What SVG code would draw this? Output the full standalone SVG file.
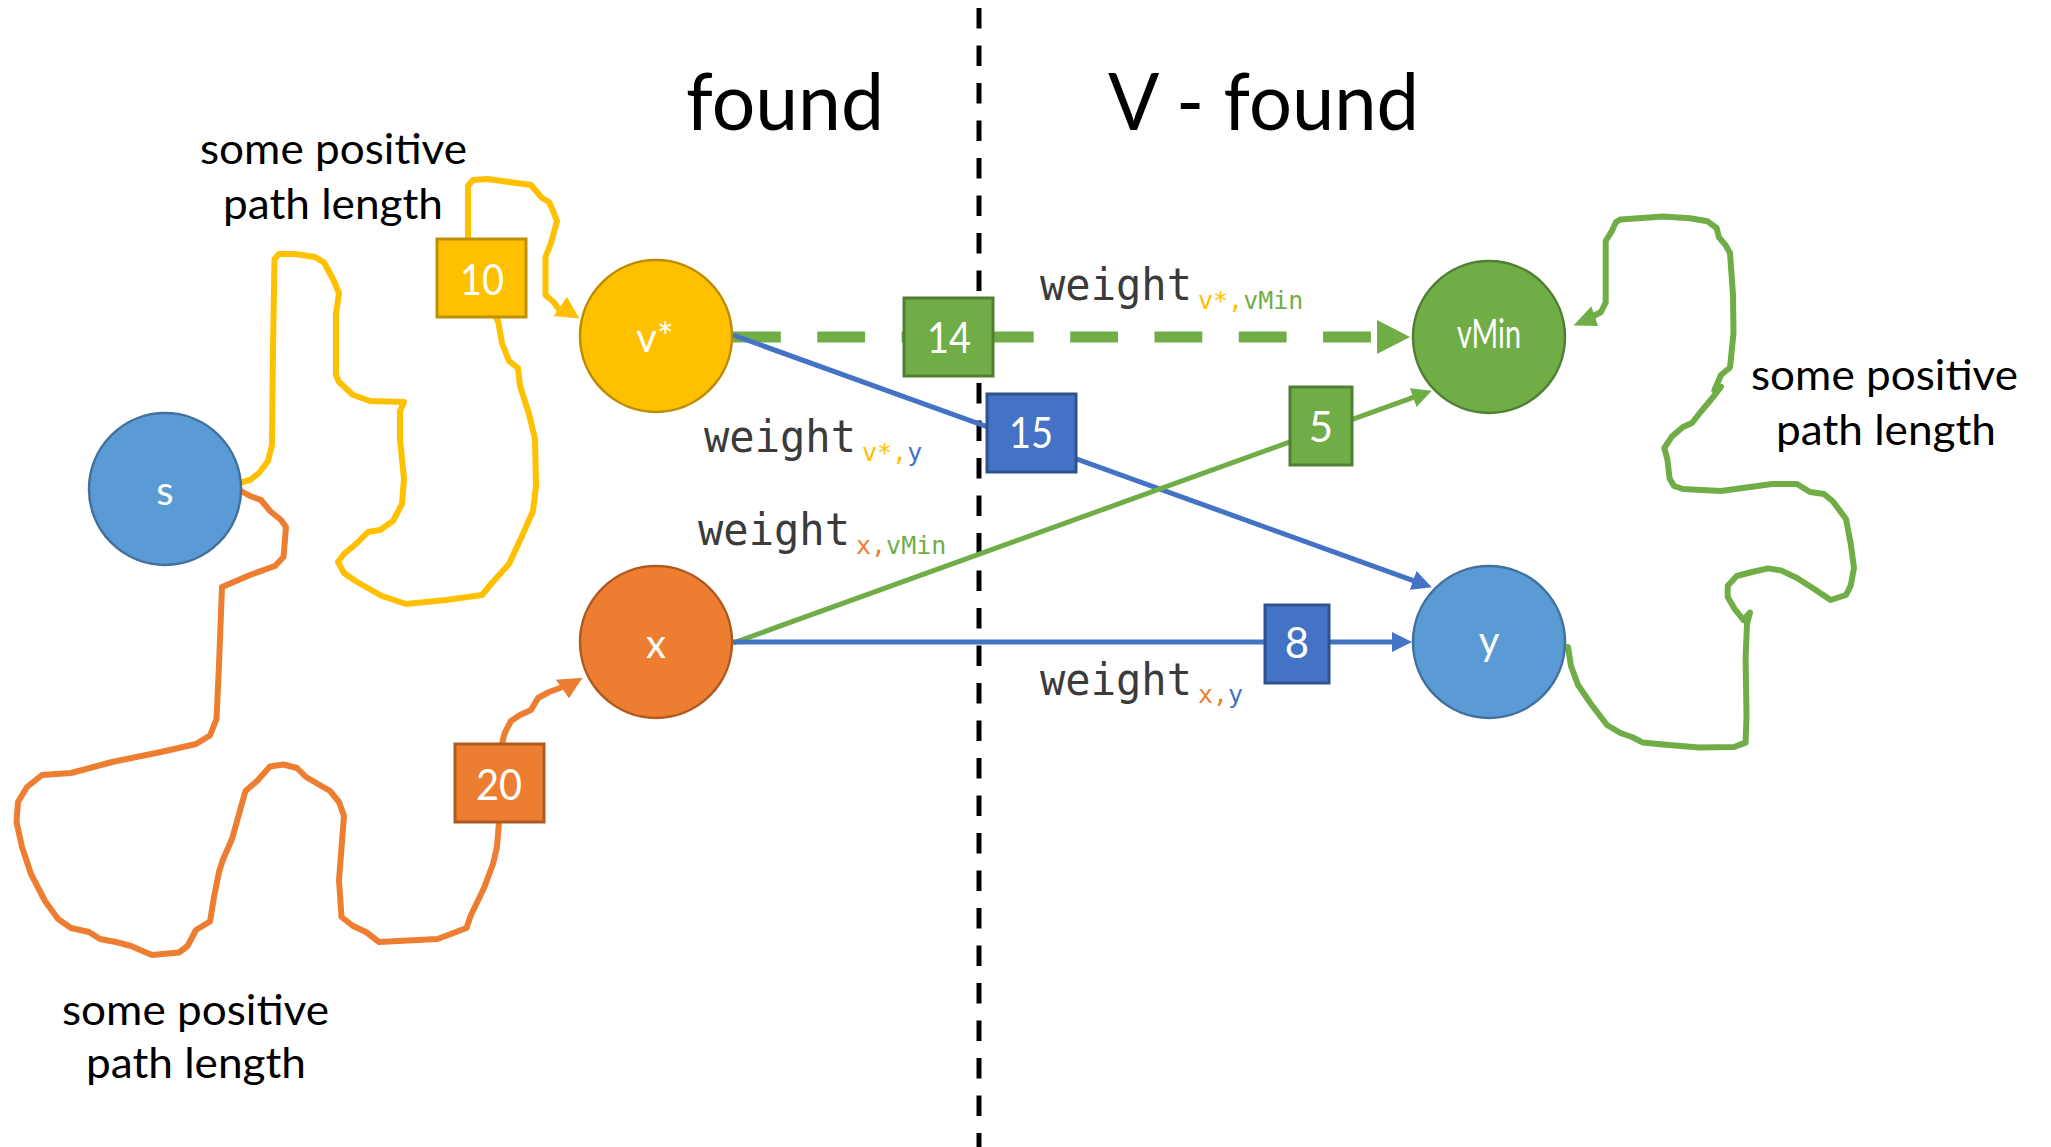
<svg xmlns="http://www.w3.org/2000/svg" width="2051" height="1147" viewBox="0 0 2051 1147">
<style>
.lab{font-family:Lato,"Liberation Sans",sans-serif;fill:#000}
.title{font-family:Lato,"Liberation Sans",sans-serif;font-size:80px;fill:#000}
.nt{font-family:Lato,"Liberation Sans",sans-serif;font-size:40px;fill:#fff;text-anchor:middle}
.bt{font-family:Lato,"Liberation Sans",sans-serif;font-size:42px;fill:#fff;text-anchor:middle}
.w{font-family:"DejaVu Sans Mono","Liberation Mono",monospace;font-size:44px;fill:#3b3b3b}
.ws{font-family:"DejaVu Sans Mono","Liberation Mono",monospace;font-size:25px}
.yl{fill:#FFC000}.gr{fill:#70AD47}.bl{fill:#4472C4}.or{fill:#ED7D31}
.free{fill:none;stroke-width:6;stroke-linejoin:round;stroke-linecap:round}
</style>
<defs>
<marker id="ab" markerUnits="userSpaceOnUse" viewBox="0 -10 20 20" refX="1" refY="0" markerWidth="20" markerHeight="20" orient="auto"><path d="M0,-10 L20,0 L0,10 Z" fill="#4472C4"/></marker>
<marker id="ag" markerUnits="userSpaceOnUse" viewBox="0 -10 20 20" refX="1" refY="0" markerWidth="20" markerHeight="20" orient="auto"><path d="M0,-10 L20,0 L0,10 Z" fill="#70AD47"/></marker>
<marker id="agb" markerUnits="userSpaceOnUse" viewBox="0 -17 33 34" refX="0" refY="0" markerWidth="33" markerHeight="34" orient="auto"><path d="M0,-17 L33,0 L0,17 Z" fill="#70AD47"/></marker>
</defs>
<rect width="2051" height="1147" fill="#fff"/>

<g id="divider">
<line x1="979" y1="8" x2="979" y2="1147" stroke="#000" stroke-width="5" stroke-dasharray="20.5 17"/>
</g>

<g id="titles">
<text class="title" x="686" y="130" textLength="198" lengthAdjust="spacingAndGlyphs">found</text>
<text class="title" x="1108" y="130" textLength="311" lengthAdjust="spacingAndGlyphs">V - found</text>
</g>

<g id="connectors">
<path class="free" stroke="#FFC000" d="M239,483 L250,480 L259,473 L268,461 L272,445 L273,350 L274.5,259 L279,254 L295,254 L315,257 L324,262.5 L333,279 L339,293 L336,314 L336,375 L339,382 L353,395 L370,401 L404,402 L400,411 L400,439 L404,479 L402,504 L393,521 L380,530 L368,532 L357,543 L344,554 L338,562 L344,573 L357,582 L382,596 L406,604 L446,600 L482,595 L491,584 L509,564 L522,536 L533,511 L536,486 L535,439 L529,414 L520,386 L518,368 L509,361 L502,343 L498,321 L493,312 L468,260 L468,239 L468,186 L473,180 L487,179 L531,185 L536,191 L542,198 L549,202 L553,211 L557,221 L551,243 L545.5,257 L545.5,295 L553.6,302 L560,311"/>
<polygon points="579.5,318.6 553.6,316 567,297" fill="#FFC000"/>

<path class="free" stroke="#ED7D31" d="M241,491 L250,496 L261,500 L270,511 L281,520 L286,527 L283.5,557 L275,566 L250,575 L222,587 L219,665 L216.5,719 L210,735.5 L196,744 L161,752 L112,762 L71,773 L42,775 L27,787 L18,802 L16.5,822 L22,847 L31,874 L45,901 L58,919 L71,928 L89,932 L100,939 L116,942 L131,946 L152,955 L179,952.5 L187.5,946 L196,930 L210,921.5 L214,897 L219,872 L223,859.5 L232,839 L239,814 L245.5,791 L257,781 L270,766.5 L283.5,764.5 L297,768 L306,777 L330,791 L339,802 L344,816 L339,880 L341.5,917 L353,926 L366,932 L379,942 L437.5,939 L466.5,928 L471,915 L484,888 L493,864 L497,847 L499,822 L502,744 L504.5,733.5 L511,721 L520,715 L531,710 L538,698 L549,692 L560,688"/>
<polygon points="582.6,677.7 555.8,679.8 569,698.3" fill="#ED7D31"/>

<path class="free" stroke="#70AD47" d="M1568,647 L1571,666 L1578,685 L1591,704 L1607,725 L1620.5,733 L1632,737 L1643,742.6 L1663,744.5 L1699,747.5 L1734,747 L1745.6,742.6 L1746.5,716 L1745.6,658 L1747,624 L1750,612.5 L1743.4,620 L1734.4,608.6 L1727.7,597 L1727.7,585.7 L1736.7,576 L1752,572 L1768,568.4 L1781,570.4 L1797,578 L1815,589.5 L1830.6,600 L1846,595 L1850.7,585.7 L1854,568 L1850.7,543.6 L1846,519 L1833,501.5 L1824,494 L1810,492 L1797,484 L1772,484 L1721,491 L1683,489 L1674,486 L1669.6,478.5 L1667.4,459.4 L1664.3,448 L1672,436.4 L1683,427 L1692,423 L1701,411.5 L1714,396 L1721,386.7 L1714.3,390.5 L1721,375 L1730,367.5 L1733.5,333 L1733,295 L1730,253 L1725.5,245 L1719,237.4 L1716.6,228 L1707.6,221.3 L1690,218.3 L1663,216.4 L1620.5,219.4 L1616,222 L1611.5,231.7 L1605.7,241 L1605.7,302.5 L1601,312 L1593.6,316"/>
<polygon points="1573.5,325.4 1591.4,306.3 1598,326" fill="#70AD47"/>

<line x1="733" y1="337" x2="1377" y2="337" stroke="#70AD47" stroke-width="11" stroke-dasharray="47.8 36.5" marker-end="url(#agb)"/>
<line x1="733" y1="335" x2="1414" y2="580.8" stroke="#4472C4" stroke-width="5" marker-end="url(#ab)"/>
<line x1="733" y1="643" x2="1414" y2="397.2" stroke="#70AD47" stroke-width="5" marker-end="url(#ag)"/>
<line x1="733" y1="642" x2="1393" y2="642" stroke="#4472C4" stroke-width="5" marker-end="url(#ab)"/>

<g id="w10"><rect x="437" y="239" width="89" height="78" fill="#FFC000" stroke="#BF9000" stroke-width="3"/><text class="bt" x="482" y="295" textLength="44" lengthAdjust="spacingAndGlyphs">10</text></g>
<g id="w20"><rect x="455" y="744" width="89" height="78" fill="#ED7D31" stroke="#AE5A21" stroke-width="3"/><text class="bt" x="499" y="800" textLength="46" lengthAdjust="spacingAndGlyphs">20</text></g>
<g id="w14"><rect x="904" y="298" width="89" height="78" fill="#70AD47" stroke="#507E32" stroke-width="3"/><text class="bt" x="949" y="353" textLength="44" lengthAdjust="spacingAndGlyphs">14</text></g>
<g id="w15"><rect x="987" y="394" width="89" height="78" fill="#4472C4" stroke="#2F528F" stroke-width="3"/><text class="bt" x="1031" y="448" textLength="44" lengthAdjust="spacingAndGlyphs">15</text></g>
<g id="w5"><rect x="1290" y="387" width="62" height="78" fill="#70AD47" stroke="#507E32" stroke-width="3"/><text class="bt" x="1321" y="442">5</text></g>
<g id="w8"><rect x="1265" y="605" width="64" height="78" fill="#4472C4" stroke="#2F528F" stroke-width="3"/><text class="bt" x="1297" y="658">8</text></g>
</g>

<g id="weights">
<text class="w" x="1040" y="300" textLength="152" lengthAdjust="spacingAndGlyphs">weight</text>
<text class="ws" x="1198" y="309"><tspan class="yl">v*,</tspan><tspan class="gr">vMin</tspan></text>

<text class="w" x="704" y="452" textLength="152" lengthAdjust="spacingAndGlyphs">weight</text>
<text class="ws" x="862" y="461"><tspan class="yl">v*,</tspan><tspan class="bl">y</tspan></text>

<text class="w" x="698" y="545" textLength="152" lengthAdjust="spacingAndGlyphs">weight</text>
<text class="ws" x="856" y="554"><tspan class="or">x,</tspan><tspan class="gr">vMin</tspan></text>

<text class="w" x="1040" y="695" textLength="152" lengthAdjust="spacingAndGlyphs">weight</text>
<text class="ws" x="1198" y="703"><tspan class="or">x,</tspan><tspan class="bl">y</tspan></text>
</g>

<g id="path-labels">
<text class="lab" font-size="43" x="200" y="164" textLength="267" lengthAdjust="spacingAndGlyphs">some positive</text>
<text class="lab" font-size="43" x="223" y="219" textLength="220" lengthAdjust="spacingAndGlyphs">path length</text>
<text class="lab" font-size="43" x="62" y="1025" textLength="267" lengthAdjust="spacingAndGlyphs">some positive</text>
<text class="lab" font-size="43" x="86" y="1078" textLength="220" lengthAdjust="spacingAndGlyphs">path length</text>
<text class="lab" font-size="43" x="1751" y="390" textLength="267" lengthAdjust="spacingAndGlyphs">some positive</text>
<text class="lab" font-size="43" x="1776" y="445" textLength="220" lengthAdjust="spacingAndGlyphs">path length</text>
</g>

<g id="node-s"><circle cx="165" cy="489" r="76" fill="#5B9BD5" stroke="#41719C" stroke-width="2.5"/><text class="nt" x="165" y="505">s</text></g>
<g id="node-vstar"><circle cx="656" cy="336" r="76" fill="#FFC000" stroke="#BC8C00" stroke-width="2.5"/><text class="nt" x="655" y="352">v*</text></g>
<g id="node-x"><circle cx="656" cy="642" r="76" fill="#ED7D31" stroke="#AE5A21" stroke-width="2.5"/><text class="nt" x="656" y="658">x</text></g>
<g id="node-vMin"><circle cx="1489" cy="337" r="76" fill="#70AD47" stroke="#507E32" stroke-width="2.5"/><text class="nt" font-size="26" x="1489" y="348" textLength="64" lengthAdjust="spacingAndGlyphs">vMin</text></g>
<g id="node-y"><circle cx="1489" cy="642" r="76" fill="#5B9BD5" stroke="#41719C" stroke-width="2.5"/><text class="nt" x="1489" y="655">y</text></g>
</svg>
